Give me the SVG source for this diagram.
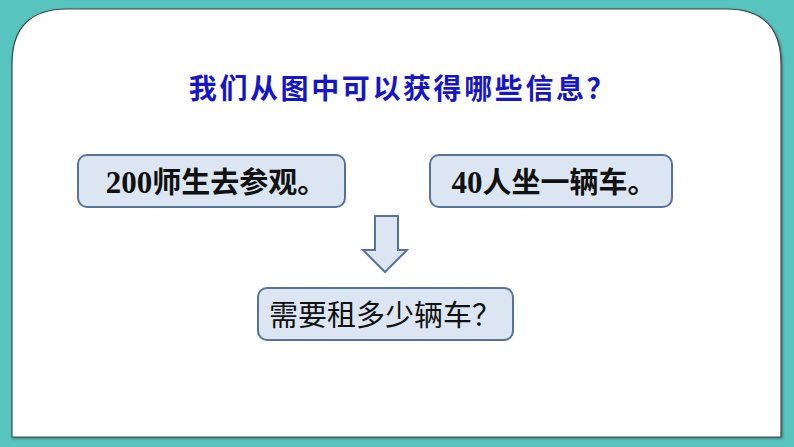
<svg xmlns="http://www.w3.org/2000/svg" width="794" height="447" viewBox="0 0 794 447">
<defs>
<style>
.box{fill:#dce6f2;stroke:#56739a;stroke-width:2}
.t{font-family:"Liberation Serif","Noto Sans CJK SC",serif;font-weight:bold;font-size:31px;fill:#111}
.c{font-family:"Noto Sans CJK SC",sans-serif;font-size:29px}
</style>
<filter id="sh" x="-5%" y="-5%" width="110%" height="110%"><feDropShadow dx="1" dy="1" stdDeviation="1" flood-color="#333" flood-opacity="0.6"/></filter>
</defs>
<rect width="794" height="447" fill="#58c4be"/>
<path d="M12,437 V64 Q12,9 67,9 H726 Q781,9 781,64 V437 Z" fill="#fff" stroke="#3c4d55" stroke-width="1.2" filter="url(#sh)"/>
<g id="title">
<text x="403" y="99" text-anchor="middle" font-family="'Noto Sans CJK SC',sans-serif" font-weight="bold" font-size="28" fill="#1616c8" letter-spacing="2.6">我们从图中可以获得哪些信息？</text>
</g>
<g id="n1">
<rect class="box" x="78" y="155" width="267" height="52" rx="9"/>
<text class="t" x="216" y="193" text-anchor="middle">200<tspan class="c">师生去参观。</tspan></text>
</g>
<g id="n2">
<rect class="box" x="430" y="155" width="242" height="52" rx="9"/>
<text class="t" x="554" y="193" text-anchor="middle">40<tspan class="c">人坐一辆车。</tspan></text>
</g>
<g id="connectors">
<path d="M375,216 H398 V250 H407 L385,272 L363,250 H375 Z" fill="#dce6f2" stroke="#56739a" stroke-width="2" stroke-linejoin="miter"/>
</g>
<g id="n3">
<rect class="box" x="258" y="288" width="255" height="52" rx="9"/>
<text x="385" y="326" text-anchor="middle" font-family="'Noto Sans CJK SC',sans-serif" font-size="29" fill="#111">需要租多少辆车？</text>
</g>
</svg>
